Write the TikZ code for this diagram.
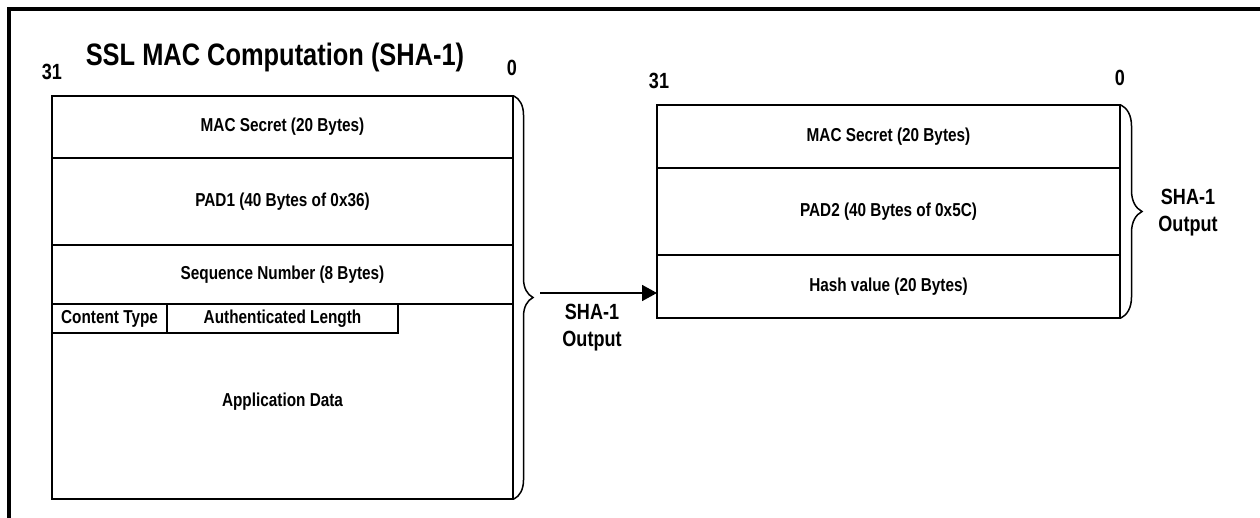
\documentclass[tikz,border=0pt]{standalone}
\usepackage{fontspec}
\setmainfont{Liberation Sans}[FakeStretch=0.82]
\usepackage{tikz}
\usetikzlibrary{positioning,arrows.meta,decorations.pathreplacing}

\begin{document}
\begin{tikzpicture}[x=1pt, y=-1pt,
    field/.style={draw, line width=2.4pt, minimum width=461pt, inner sep=0pt, outer sep=0pt, font=\bfseries\fontsize{18.7}{22}\selectfont},
    bits/.style={font=\bfseries\fontsize{22}{24}\selectfont},
    outlbl/.style={align=center, font=\bfseries\fontsize{22}{27}\selectfont},
    hashbrace/.style={decorate, decoration={brace, amplitude=#1}, line width=1.5pt}]
  \clip (0,0) rectangle (1260,518);
  \draw[line width=3.3pt] (9,540) -- (9,9) -- (1280,9);

  \node[font=\bfseries\fontsize{31}{34}\selectfont] (title) at (275,57) {SSL MAC Computation (SHA-1)};
  \node[bits] (lhi) at (52,72) {31};
  \node[bits] (llo) at (512,68) {0};

  \node[field, minimum height=62pt, anchor=north west] (macsec) at (52,96) {MAC Secret (20 Bytes)};
  \node[field, minimum height=87pt, below=0pt of macsec] (padone) {PAD1 (40 Bytes of 0x36)};
  \node[field, minimum height=59pt, below=0pt of padone] (seqnum) {Sequence Number (8 Bytes)};
  \node[field, minimum height=195pt, below=0pt of seqnum] (appdata) {Application Data};
  \node[field, minimum width=115pt, minimum height=29pt, anchor=north west] (ctype) at (appdata.north west) {Content Type};
  \node[field, minimum width=231pt, minimum height=29pt, right=0pt of ctype] (authlen) {Authenticated Length};
  \draw[hashbrace=19pt] ([xshift=1pt]macsec.north east) -- ([xshift=1pt]appdata.south east);

  \coordinate (ltip) at (540,293);
  \draw[line width=1.6pt, -{Triangle[length=15pt,width=16pt]}] (ltip) -- (ltip -| 657,0);
  \node[outlbl] (lout) at (592,328) {SHA-1\\Output};

  \node[bits] (rhi) at (659,81) {31};
  \node[bits] (rlo) at (1120,78) {0};
  \node[field, minimum width=463pt, minimum height=63pt, anchor=north west] (macsectwo) at (657,105) {MAC Secret (20 Bytes)};
  \node[field, minimum width=463pt, minimum height=87pt, below=0pt of macsectwo] (padtwo) {PAD2 (40 Bytes of 0x5C)};
  \node[field, minimum width=463pt, minimum height=63pt, below=0pt of padtwo] (hashval) {Hash value (20 Bytes)};
  \draw[hashbrace=21pt] ([xshift=1pt]macsectwo.north east) -- ([xshift=1pt]hashval.south east);
  \node[outlbl] (rout) at (1188,213) {SHA-1\\Output};
\end{tikzpicture}
\end{document}
